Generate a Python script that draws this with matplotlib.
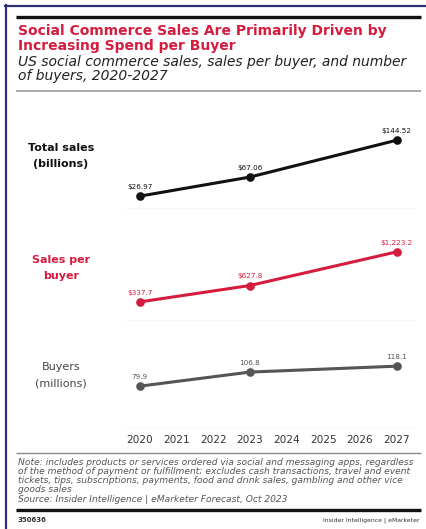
import matplotlib
matplotlib.use("Agg")
import matplotlib.pyplot as plt
from matplotlib.lines import Line2D

plt.rcParams["font.family"] = ["DejaVu Sans"]

# Data
years = [2020, 2023, 2027]
year_ticks = [2020, 2021, 2022, 2023, 2024, 2025, 2026, 2027]
total_sales = [26.97, 67.06, 144.52]
total_labels = ["$26.97", "$67.06", "$144.52"]
sales_per_buyer = [337.7, 627.8, 1223.2]
spb_labels = ["$337.7", "$627.8", "$1,223.2"]
buyers = [79.9, 106.8, 118.1]
buyer_labels = ["79.9", "106.8", "118.1"]

RED = "#d51c3e"
NAVY = "#2e2f78"
W, H = 427, 529

fig = plt.figure(figsize=(W / 100, H / 100), dpi=100)
fig.patch.set_facecolor("white")


def fx(px):
    return px / W


def fy(py):
    return 1 - py / H


def hline(y, x0, x1, color, lw):
    fig.add_artist(Line2D([fx(x0), fx(x1)], [fy(y), fy(y)], color=color,
                          lw=lw, transform=fig.transFigure, solid_capstyle="butt"))


# frame on left and top
fig.add_artist(Line2D([fx(6), fx(6)], [fy(5), 0], color=NAVY, lw=1.6,
                      transform=fig.transFigure))
fig.add_artist(Line2D([fx(5), 1], [fy(6), fy(6)], color=NAVY, lw=1.6,
                      transform=fig.transFigure))

# header
hline(17, 16, 421, "#111111", 2.4)
fig.text(fx(18), fy(31), "Social Commerce Sales Are Primarily Driven by",
         color=RED, fontsize=10.0, fontweight="bold", va="center")
fig.text(fx(18), fy(46), "Increasing Spend per Buyer",
         color=RED, fontsize=10.0, fontweight="bold", va="center")
fig.text(fx(18), fy(62), "US social commerce sales, sales per buyer, and number",
         color="#222222", fontsize=10.0, style="italic", va="center")
fig.text(fx(18), fy(76), "of buyers, 2020-2027",
         color="#222222", fontsize=10.0, style="italic", va="center")
hline(91, 16, 421, "#9a9a9a", 1.2)

# panels: (values, labels, color, bottom px, ymax, left title, title weight, title colour)
panels = [
    (total_sales, total_labels, "#111111", 209, 187, "Total sales\n(billions)", "bold", "#111111"),
    (sales_per_buyer, spb_labels, RED, 321, 1575, "Sales per\nbuyer", "bold", RED),
    (buyers, buyer_labels, "#555555", 428, 170, "Buyers\n(millions)", "normal", "#444444"),
]

left_px, right_px, height_px = 125, 415, 89
for i, (vals, labs, color, bottom, ymax, name, weight, name_color) in enumerate(panels):
    ax = fig.add_axes([fx(left_px), fy(bottom), fx(right_px - left_px), height_px / H])
    ax.set_xlim(2019.6, 2027.5)
    ax.set_ylim(0, ymax)
    ax.axhline(0, color="#dddddd", lw=1.0)
    ax.plot(years, vals, color=color, lw=2.2, marker="o", markersize=5.2,
            solid_capstyle="round", zorder=3)
    for x, v, lab in zip(years, vals, labs):
        ax.annotate(lab, (x, v), xytext=(0, 4.5), textcoords="offset points",
                    ha="center", va="bottom", fontsize=5.2, color=color)
    for s in ax.spines.values():
        s.set_visible(False)
    ax.set_yticks([])
    if i == 2:
        ax.set_xticks(year_ticks)
        ax.set_xticklabels([str(y) for y in year_ticks], fontsize=7.6, color="#333333")
        ax.tick_params(axis="x", length=0, pad=5)
    else:
        ax.set_xticks([])
    ax.patch.set_alpha(0)
    fig.text(fx(61), fy(bottom - 53), name, ha="center", va="center",
             fontsize=8, fontweight=weight, color=name_color, linespacing=1.75)

# notes and footer
hline(453, 16, 421, "#8a8a8a", 1.0)
notes = ("Note: includes products or services ordered via social and messaging apps, regardless\n"
         "of the method of payment or fulfillment; excludes cash transactions, travel and event\n"
         "tickets, tips, subscriptions, payments, food and drink sales, gambling and other vice\n"
         "goods sales\n"
         "Source: Insider Intelligence | eMarketer Forecast, Oct 2023")
fig.text(fx(18), fy(458), notes, ha="left", va="top", fontsize=6.6,
         style="italic", color="#555555", linespacing=1.02)
hline(510, 16, 421, "#111111", 2.4)
fig.text(fx(18), fy(520), "350636", ha="left", va="center", fontsize=5,
         fontweight="bold", color="#333333")
fig.text(fx(420), fy(520), "Insider Intelligence | eMarketer", ha="right", va="center",
         fontsize=4.4, color="#333333")

fig.savefig("out.png", dpi=100)
